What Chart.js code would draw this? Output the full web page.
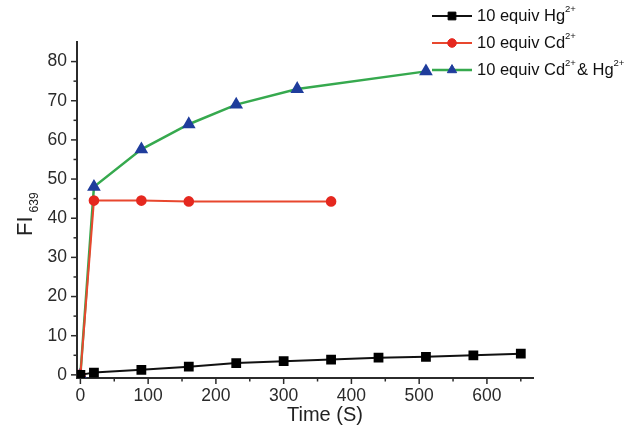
<!DOCTYPE html>
<html>
<head>
<meta charset="utf-8">
<script src="https://cdn.jsdelivr.net/npm/chart.js@4"></script>
<style>
  html, body { margin: 0; background: #fff; }
  #wrap { width: 627px; height: 432px; }
</style>
</head>
<body>
<div id="wrap"><canvas id="c"></canvas></div>
<script>
// data
const hgTime = [0, 20, 90, 160, 230, 300, 370, 440, 510, 580, 650];
const hgFI = [0, 0.6, 1.3, 2.1, 3.0, 3.5, 3.9, 4.4, 4.6, 5.0, 5.4];
const cdTime = [0, 20, 90, 160, 370];
const cdFI = [0, 44.5, 44.5, 44.3, 44.3];
const bothTime = [0, 20, 90, 160, 230, 320, 510];
const bothFI = [0, 48, 57.6, 64, 69, 73, 77.5];

const xMajor = [0, 100, 200, 300, 400, 500, 600];
const xMinor = [50, 150, 250, 350, 450, 550, 650];
const yMajor = [0, 10, 20, 30, 40, 50, 60, 70, 80];
const yMinor = [5, 15, 25, 35, 45, 55, 65, 75];

// label pieces: normal, superscript, normal, superscript
const legendLabels = [
  ["10 equiv Hg", "2+"],
  ["10 equiv Cd", "2+"],
  ["10 equiv Cd", "2+", "& Hg", "2+"]
];

const AXIS = "#2b2b2b";
const FONT = "'Liberation Sans', Arial, sans-serif";

function pts(xs, ys) {
  return xs.map((x, i) => ({ x: x, y: ys[i] }));
}

// tick marks, axis titles and legend drawn by hand
const decor = {
  id: "decor",
  afterDraw(chart) {
    const ctx = chart.ctx;
    const xs = chart.scales.x, ys = chart.scales.y;
    const bottom = xs.top, left = ys.right;
    ctx.save();
    ctx.strokeStyle = AXIS;
    ctx.lineWidth = 1.5;
    const seg = (x1, y1, x2, y2) => {
      ctx.beginPath(); ctx.moveTo(x1, y1); ctx.lineTo(x2, y2); ctx.stroke();
    };
    xMajor.forEach(v => { const p = xs.getPixelForValue(v); seg(p, bottom, p, bottom + 6); });
    xMinor.forEach(v => { const p = xs.getPixelForValue(v); seg(p, bottom, p, bottom + 3.5); });
    yMajor.forEach(v => { const p = ys.getPixelForValue(v); seg(left, p, left - 6, p); });
    yMinor.forEach(v => { const p = ys.getPixelForValue(v); seg(left, p, left - 3.5, p); });

    ctx.fillStyle = "#222";
    // x title
    ctx.font = "20px " + FONT;
    ctx.textAlign = "center";
    ctx.textBaseline = "middle";
    ctx.fillText("Time (S)", 325, 415);
    ctx.textAlign = "left";

    // y title FI with subscript 639
    ctx.translate(32, 236);
    ctx.rotate(-Math.PI / 2);
    ctx.font = "22px " + FONT;
    ctx.textBaseline = "alphabetic";
    ctx.fillText("FI", 0, 0);
    const w = ctx.measureText("FI").width;
    ctx.font = "12px " + FONT;
    ctx.fillText("639", w + 4, 6);
    ctx.setTransform(1, 0, 0, 1, 0, 0);

    // legend: line - marker - line, then label with superscripts
    const rows = [16, 43, 70];
    chart.data.datasets.forEach((ds, i) => {
      const y = rows[i];
      ctx.strokeStyle = ds.borderColor;
      ctx.lineWidth = ds.borderWidth;
      seg(432, y, 472, y);
      ctx.fillStyle = ds.pointBackgroundColor;
      ctx.strokeStyle = ds.pointBorderColor;
      ctx.lineWidth = 1;
      Chart.helpers.drawPoint(ctx, { pointStyle: ds.pointStyle, radius: ds.pointRadius, borderWidth: 1 }, 452, y);
      let x = 477;
      ctx.fillStyle = "#111";
      ctx.textBaseline = "middle";
      legendLabels[i].forEach((part, k) => {
        const sup = k % 2 === 1;
        ctx.font = (sup ? "9.5px " : "16.5px ") + FONT;
        ctx.fillText(part, x, sup ? y - 7 : y);
        x += ctx.measureText(part).width + (sup ? 1 : 0);
      });
    });
    ctx.restore();
  }
};

new Chart(document.getElementById("c"), {
  type: "line",
  data: {
    datasets: [
      {
        label: "10 equiv Hg2+",
        data: pts(hgTime, hgFI),
        borderColor: "#111111",
        borderWidth: 2,
        pointStyle: "rect",
        pointRadius: 5.5,
        pointBackgroundColor: "#000",
        pointBorderColor: "#000",
        tension: 0
      },
      {
        label: "10 equiv Cd2+",
        data: pts(cdTime, cdFI),
        borderColor: "#e8472e",
        borderWidth: 2,
        pointStyle: "circle",
        pointRadius: 4.3,
        pointBackgroundColor: "#e5281f",
        pointBorderColor: "#e5281f",
        tension: 0
      },
      {
        label: "10 equiv Cd2+ & Hg2+",
        data: pts(bothTime, bothFI),
        borderColor: "#36a94e",
        borderWidth: 2.5,
        pointStyle: "triangle",
        pointRadius: 5.4,
        pointBackgroundColor: "#1f3d9c",
        pointBorderColor: "#1f3d9c",
        tension: 0
      }
    ]
  },
  options: {
    responsive: true,
    maintainAspectRatio: false,
    animation: false,
    layout: { padding: { top: 42, right: 94, left: 0, bottom: 0 } },
    plugins: { legend: { display: false }, tooltip: { enabled: false } },
    scales: {
      x: {
        type: "linear",
        min: -5,
        max: 668,
        afterBuildTicks: s => { s.ticks = xMajor.map(v => ({ value: v })); },
        afterFit: s => { s.height = 54; },
        grid: { display: false, drawTicks: false },
        border: { display: true, color: AXIS, width: 2 },
        ticks: { color: "#2a2a2a", font: { family: FONT, size: 17.5 }, padding: 8, maxRotation: 0 }
      },
      y: {
        type: "linear",
        min: -0.8,
        max: 85,
        afterBuildTicks: s => { s.ticks = yMajor.map(v => ({ value: v })); },
        afterFit: s => { s.width = 77; },
        grid: { display: false, drawTicks: false },
        border: { display: true, color: AXIS, width: 2 },
        ticks: { color: "#2a2a2a", font: { family: FONT, size: 17.5 }, padding: 10 }
      }
    }
  },
  plugins: [decor]
});
</script>
</body>
</html>
